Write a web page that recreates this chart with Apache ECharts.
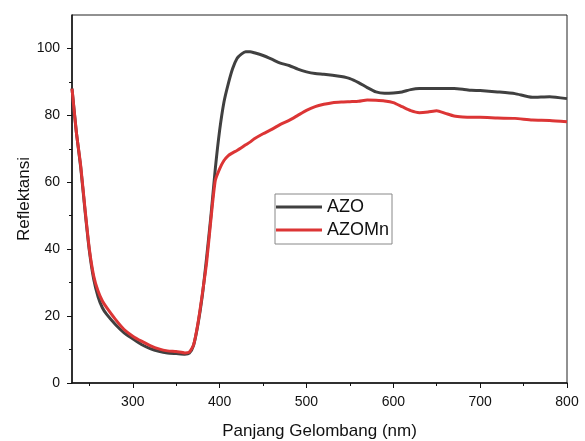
<!DOCTYPE html>
<html>
<head>
<meta charset="utf-8">
<script src="https://cdn.jsdelivr.net/npm/echarts@6/dist/echarts.min.js"></script>
<style>
  html, body { margin: 0; padding: 0; background: #fff; }
  #chart { width: 585px; height: 441px; }
</style>
</head>
<body>
<div id="chart"></div>
<script>
// panjang gelombang (nm)
var wavelength = [230, 235, 240, 245, 250, 255, 260, 265, 270, 280, 290, 300, 310, 320, 330, 340, 350, 360, 365,
  370, 375, 380, 385, 390, 395, 400, 405, 410, 415, 420, 425, 430, 435, 440, 450, 460, 470, 480, 490, 500,
  510, 520, 530, 540, 550, 560, 570, 580, 590, 600, 610, 620, 630, 640, 650, 660, 670, 680, 690, 700,
  720, 740, 760, 780, 800];

var azo = [88, 75, 64.5, 51.5, 39.5, 31, 25.8, 22.5, 20.5, 17.5, 15, 13.2, 11.5, 10.3, 9.5, 9, 8.8, 8.6, 8.9,
  11.3, 17.5, 26, 37.5, 50, 64, 75.5, 84, 89.5, 94, 97, 98.3, 99, 99, 98.7, 97.9, 96.8, 95.6, 94.9, 93.8, 93,
  92.5, 92.3, 92, 91.6, 91, 89.8, 88.3, 87, 86.6, 86.7, 87, 87.7, 88, 88, 88, 88, 88, 87.8, 87.5, 87.4,
  87, 86.5, 85.4, 85.6, 85];

var azoMn = [88, 75, 65, 52, 40, 32, 27.5, 24.5, 22.5, 19, 16, 14, 12.5, 11.2, 10.2, 9.6, 9.4, 9, 9.2,
  11.4, 17.8, 26.5, 36, 49, 60.5, 64, 66.5, 68, 68.8, 69.5, 70.3, 71.2, 72, 73, 74.5, 75.8, 77.3, 78.5, 80, 81.5,
  82.6, 83.3, 83.8, 84, 84.1, 84.2, 84.6, 84.5, 84.3, 83.8, 82.6, 81.4, 80.8, 81, 81.4, 80.6, 79.8, 79.5, 79.4, 79.4,
  79.2, 79.1, 78.6, 78.5, 78.1];

var xMajor = [300, 400, 500, 600, 700, 800];
var xMinor = [250, 350, 450, 550, 650, 750];
var yMajor = [0, 20, 40, 60, 80, 100];
var yMinor = [10, 30, 50, 70, 90];

var font = 'Arial, "Liberation Sans", sans-serif';

function pairs(xs, ys){
  var out = [];
  for(var i = 0; i < xs.length; i++){
    out.push([xs[i], ys[i]]);
  }
  return out;
}

var chart = echarts.init(document.getElementById('chart'), null, {renderer: 'canvas'});

var option = {
  animation: false,
  backgroundColor: '#fff',
  grid: {
    left: 72, top: 15, right: 18, bottom: 58,
    show: true, borderColor: '#222', borderWidth: 1,
    outerBoundsMode: 'none'
  },
  legend: {
    orient: 'vertical',
    left: 275, top: 194,
    padding: [4, 3, 5, 1],
    icon: 'rect',
    itemWidth: 46, itemHeight: 3, itemGap: 5,
    borderColor: '#888', borderWidth: 1,
    textStyle: { fontFamily: font, fontSize: 18, lineHeight: 18, color: '#111' },
    data: ['AZO', 'AZOMn']
  },
  xAxis: [
    {
      type: 'value', min: 230, max: 800,
      name: 'Panjang Gelombang (nm)', nameLocation: 'middle', nameGap: 40, nameMoveOverlap: false,
      nameTextStyle: { fontFamily: font, fontSize: 17, color: '#111' },
      axisLine: { lineStyle: { color: '#111', width: 1.5 } },
      axisTick: { length: 5, customValues: xMajor, lineStyle: { color: '#111' } },
      axisLabel: { customValues: xMajor, margin: 12, fontFamily: font, fontSize: 14, color: '#111' },
      splitLine: { show: false }
    },
    {
      type: 'value', min: 230, max: 800, position: 'bottom',
      axisLine: { show: false },
      axisTick: { length: 3, customValues: xMinor, lineStyle: { color: '#111' } },
      axisLabel: { show: false },
      splitLine: { show: false }
    }
  ],
  yAxis: [
    {
      type: 'value', min: 0, max: 110,
      name: 'Reflektansi', nameLocation: 'middle', nameGap: 39, nameMoveOverlap: false,
      nameTextStyle: { fontFamily: font, fontSize: 17, color: '#111' },
      axisLine: { lineStyle: { color: '#111', width: 1.5 } },
      axisTick: { length: 5, customValues: yMajor, lineStyle: { color: '#111' } },
      axisLabel: { customValues: yMajor, margin: 12, fontFamily: font, fontSize: 14, color: '#111' },
      splitLine: { show: false }
    },
    {
      type: 'value', min: 0, max: 110, position: 'left',
      axisLine: { show: false },
      axisTick: { length: 3, customValues: yMinor, lineStyle: { color: '#111' } },
      axisLabel: { show: false },
      splitLine: { show: false }
    }
  ],
  series: [
    {
      name: 'AZO', type: 'line', symbol: 'none', smooth: 0.2,
      xAxisIndex: 0, yAxisIndex: 0,
      lineStyle: { color: '#404040', width: 3 },
      itemStyle: { color: '#404040' },
      data: pairs(wavelength, azo)
    },
    {
      name: 'AZOMn', type: 'line', symbol: 'none', smooth: 0.2,
      xAxisIndex: 0, yAxisIndex: 0,
      lineStyle: { color: '#dc3535', width: 3 },
      itemStyle: { color: '#dc3535' },
      data: pairs(wavelength, azoMn)
    }
  ]
};

chart.setOption(option);
</script>
</body>
</html>
